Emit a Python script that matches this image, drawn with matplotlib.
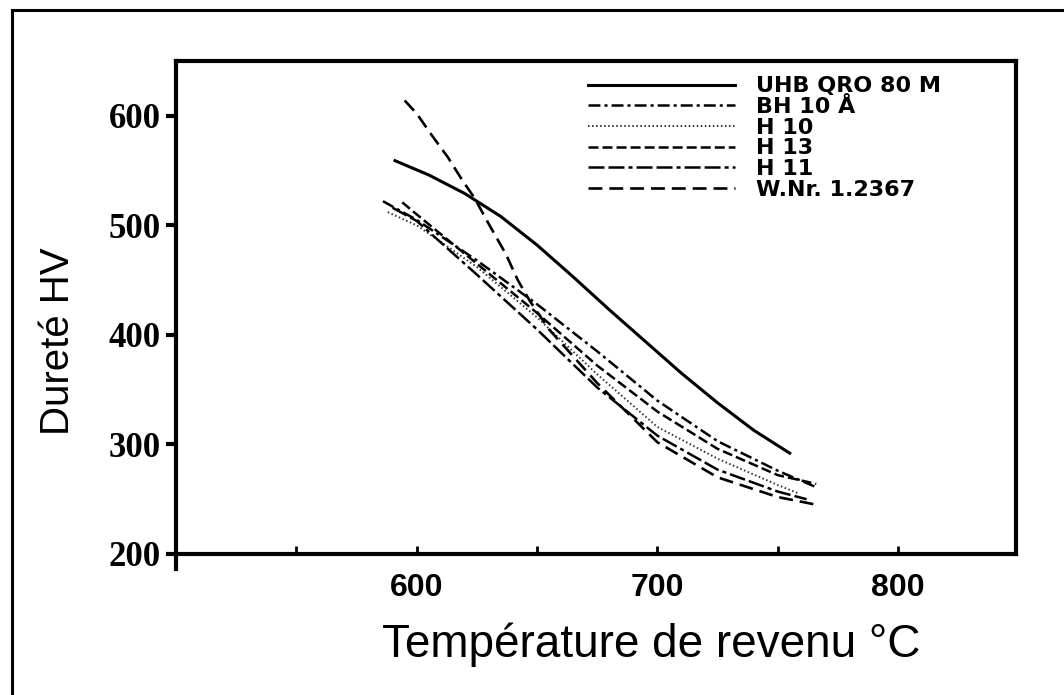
import matplotlib
matplotlib.use('Agg')
import matplotlib.pyplot as plt
from matplotlib.lines import Line2D

# valeurs (température °C, dureté HV)
t_uhb = [591, 605, 620, 635, 650, 665, 680, 695, 710, 725, 740, 755]
hv_uhb = [559, 546, 529, 508, 482, 453, 423, 394, 365, 338, 313, 292]

t_bh = [586, 600, 625, 650, 675, 700, 725, 750, 766]
hv_bh = [522, 505, 468, 428, 385, 340, 303, 276, 261]

t_h10 = [588, 600, 625, 650, 675, 700, 725, 750, 759]
hv_h10 = [512, 500, 462, 416, 364, 316, 287, 263, 255]

t_h13 = [594, 600, 625, 650, 675, 700, 725, 750, 766]
hv_h13 = [521, 510, 465, 420, 372, 330, 296, 272, 264]

t_h11 = [590, 600, 625, 650, 675, 700, 725, 750, 762]
hv_h11 = [516, 504, 455, 405, 352, 308, 277, 257, 250]

t_wnr = [595, 600, 607, 613, 619, 624, 630, 637, 642, 647, 655, 675, 700, 725, 750, 766]
hv_wnr = [614, 602, 580, 562, 541, 525, 501, 474, 450, 431, 405, 356, 302, 270, 252, 245]

labels = ["UHB QRO 80 M", "BH 10 Å", "H 10", "H 13", "H 11", "W.Nr. 1.2367"]

xticks = [550, 600, 650, 700, 750, 800]
xticklabels = ["", "600", "", "700", "", "800"]
yticks = [200, 300, 400, 500, 600]

plt.rcParams['lines.scale_dashes'] = False

fig = plt.figure(figsize=(10.64, 6.95), dpi=100)
ax = fig.add_axes([176/1064, 1-554/695, 840/1064, 493/695])

series = [
    (t_uhb, hv_uhb, dict(ls='-', lw=2.2, color='black')),
    (t_bh, hv_bh, dict(ls=(0, (8.6, 2.9, 2.2, 2.9)), lw=1.8, color='black')),
    (t_h10, hv_h10, dict(ls=(0, (1.1, 1.8)), lw=1.4, color='#333333')),
    (t_h13, hv_h13, dict(ls=(0, (7.2, 2.9)), lw=1.8, color='black')),
    (t_h11, hv_h11, dict(ls=(0, (11.5, 2.9, 11.5, 2.9, 2.9, 2.9)), lw=1.8, color='black')),
    (t_wnr, hv_wnr, dict(ls=(0, (10, 5)), lw=1.9, color='black')),
]
for (t, hv, st), lab in zip(series, labels):
    ax.plot(t, hv, label=lab, **st)

ax.set_xlim(500, 849)
ax.set_ylim(200, 650)

for sp in ax.spines.values():
    sp.set_linewidth(3)

ax.set_xticks(xticks, labels=xticklabels)
ax.set_yticks(yticks)
ax.tick_params(axis='x', direction='in', length=6, width=2, pad=14)
ax.tick_params(axis='y', direction='out', length=7, width=3, pad=4)
for lbl in ax.get_xticklabels():
    lbl.set_fontfamily(['Liberation Sans Narrow', 'Liberation Sans'])
    lbl.set_fontweight('bold')
    lbl.set_fontsize(23)
for lbl in ax.get_yticklabels():
    lbl.set_fontfamily('Liberation Serif')
    lbl.set_fontweight('bold')
    lbl.set_fontsize(25)

# prolongement de l'axe y sous l'axe x
ax.plot([0, 0], [0, -0.03], transform=ax.transAxes, clip_on=False, color='black', lw=3)

fig.text(58/1064, 1-341/695, "Dureté HV", rotation=90, ha='center', va='center',
         fontsize=29, family='Liberation Sans')
fig.text(651/1064, 1-645/695, "Température de revenu °C", ha='center', va='center',
         fontsize=33, family='Liberation Sans')

leg = ax.legend(loc='upper left', bbox_to_anchor=(0.4905, 0.969), frameon=False,
                borderpad=0, borderaxespad=0, handlelength=6.6, handletextpad=0.95,
                labelspacing=0.03, prop={'family': 'DejaVu Sans', 'weight': 'bold', 'size': 16})

# cadre extérieur
fig.add_artist(Line2D([12/1064, 12/1064], [0, 1-10/695], color='black', lw=2.2))
fig.add_artist(Line2D([12/1064, 1], [1-10/695, 1-10/695], color='black', lw=2.2))

fig.savefig('out.png', dpi=100)
